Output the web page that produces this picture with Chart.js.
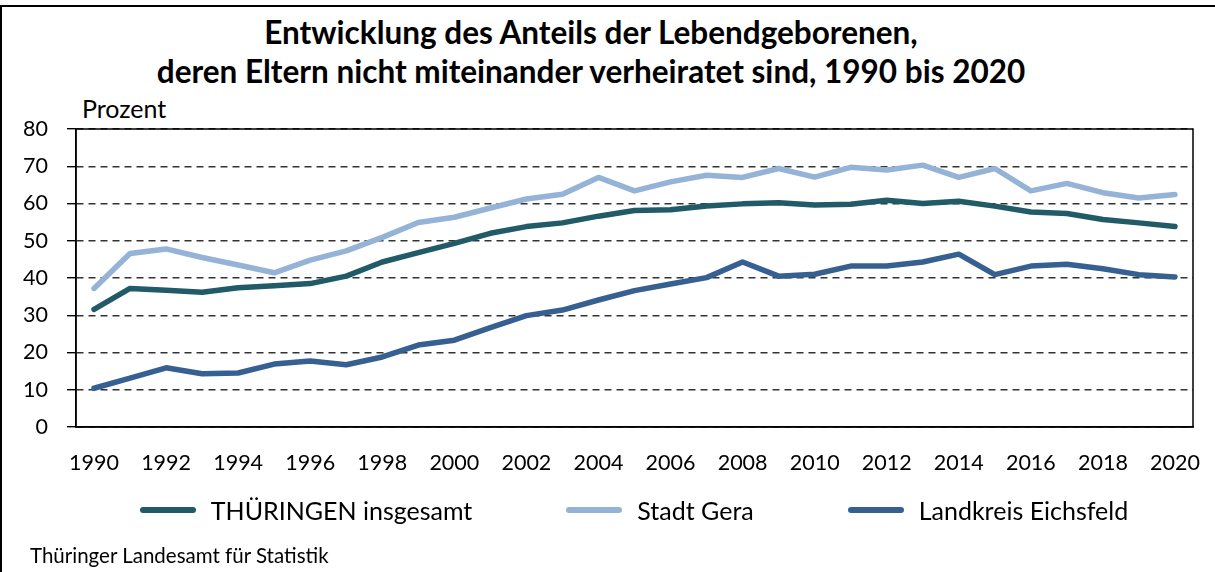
<!DOCTYPE html>
<html>
<head>
<meta charset="utf-8">
<script src="https://cdn.jsdelivr.net/npm/chart.js@4/dist/chart.umd.min.js"></script>
<style>
  html, body { margin: 0; padding: 0; background: #fff; }
  #wrap { position: relative; width: 1215px; height: 572px; overflow: hidden; font-family: Lato, "Noto Sans", sans-serif; color: #000; }
  #frame { position: absolute; left: 0; top: 5px; width: 1215px; height: 580px; border-top: 2px solid #000; border-left: 2px solid #000; box-sizing: border-box; }
  #title { position: absolute; left: 0; width: 1182px; top: 13px; text-align: center; font-weight: 700; font-size: 31.5px; line-height: 39px; }
  #unit { position: absolute; left: 82px; top: 94px; font-size: 25px; line-height: 28px; }
  #source { position: absolute; left: 30px; top: 543px; font-size: 20.5px; line-height: 24px; }
  #legend { position: absolute; left: 76px; width: 1116px; top: 494px; display: flex; justify-content: center; gap: 94px; font-size: 25px; line-height: 32px; }
  #legend .item { display: flex; align-items: center; }
  #legend .swatch { width: 56px; height: 6px; border-radius: 3px; margin-right: 15px; }
  canvas { position: absolute; left: 0; top: 0; }
</style>
</head>
<body>
<div id="wrap">
  <div id="frame"></div>
  <div id="title">Entwicklung des Anteils der Lebendgeborenen,<br>deren Eltern nicht miteinander verheiratet sind, 1990 bis 2020</div>
  <div id="unit">Prozent</div>
  <canvas id="c" width="1215" height="572"></canvas>
  <div id="legend"></div>
  <div id="source">Thüringer Landesamt für Statistik</div>
</div>
<script>
const years = ["1990","1991","1992","1993","1994","1995","1996","1997","1998","1999","2000","2001","2002","2003","2004","2005","2006","2007","2008","2009","2010","2011","2012","2013","2014","2015","2016","2017","2018","2019","2020"];
const thueringen = [31.6,37.2,36.7,36.2,37.4,37.9,38.5,40.5,44.3,46.8,49.3,52.0,53.8,54.8,56.6,58.1,58.3,59.3,59.9,60.2,59.6,59.8,60.9,60.0,60.6,59.3,57.7,57.3,55.7,54.8,53.8];
const gera = [37.2,46.6,47.8,45.5,43.5,41.4,44.8,47.3,50.9,54.9,56.3,58.8,61.2,62.5,67.0,63.4,65.8,67.6,67.0,69.4,67.1,69.7,69.0,70.3,67.0,69.4,63.4,65.4,62.9,61.5,62.4];
const eichsfeld = [10.4,13.1,15.9,14.3,14.5,16.9,17.7,16.7,18.8,22.0,23.3,26.7,29.9,31.4,34.1,36.6,38.4,40.1,44.3,40.5,41.0,43.2,43.2,44.3,46.4,40.9,43.2,43.7,42.5,40.9,40.3];
const seriesNames = ["THÜRINGEN insgesamt", "Stadt Gera", "Landkreis Eichsfeld"];
const seriesColors = ["#215B68", "#95B3D7", "#376092"];
const yTicks = [0,10,20,30,40,50,60,70,80];

const frame = {
  id: 'frame',
  afterDatasetsDraw(chart) {
    const {ctx, chartArea: a} = chart;
    ctx.save();
    ctx.strokeStyle = '#000';
    ctx.lineWidth = 1.5;
    ctx.strokeRect(a.left, a.top, a.right - a.left, a.bottom - a.top);
    ctx.restore();
  }
};

const htmlLegend = {
  id: 'htmlLegend',
  afterUpdate(chart) {
    const box = document.getElementById('legend');
    box.innerHTML = '';
    chart.options.plugins.legend.labels.generateLabels(chart).forEach(item => {
      const el = document.createElement('div');
      el.className = 'item';
      const sw = document.createElement('span');
      sw.className = 'swatch';
      sw.style.background = item.strokeStyle;
      const tx = document.createElement('span');
      tx.textContent = item.text;
      el.appendChild(sw); el.appendChild(tx);
      box.appendChild(el);
    });
  }
};

const mk = (i, data) => ({
  label: seriesNames[i], data, borderColor: seriesColors[i], backgroundColor: seriesColors[i],
  borderWidth: 5.5, pointRadius: 0, tension: 0, borderCapStyle: 'round', borderJoinStyle: 'round'
});

new Chart(document.getElementById('c'), {
  type: 'line',
  data: { labels: years, datasets: [mk(0, thueringen), mk(1, gera), mk(2, eichsfeld)] },
  options: {
    responsive: false, animation: false,
    layout: { padding: { top: 129, left: 0, right: 22, bottom: 0 } },
    plugins: { legend: { display: false }, tooltip: { enabled: false }, title: { display: false } },
    scales: {
      x: {
        type: 'category', offset: true,
        grid: { display: false, drawTicks: false },
        border: { display: true, color: '#000', width: 1.5 },
        ticks: { autoSkip: false, maxRotation: 0, padding: 23, color: '#000', font: { family: 'Lato', size: 21.5 },
          callback: (v, i) => (i % 2 === 0 ? years[i] : '') },
        afterFit: s => { s.height = 145; s.paddingLeft = 0; s.paddingRight = 0; }
      },
      y: {
        min: 0, max: 80,
        afterBuildTicks: s => { s.ticks = yTicks.map(v => ({ value: v })); },
        grid: { color: '#333', lineWidth: 1.4, drawTicks: true, tickLength: 9, tickColor: '#000', tickWidth: 1.4 },
        border: { display: true, color: '#000', width: 1.5, dash: [7, 5] },
        ticks: { padding: 19, color: '#000', font: { family: 'Lato', size: 21.5 } },
        afterFit: s => { s.width = 76; s.paddingTop = 0; s.paddingBottom = 0; }
      }
    }
  },
  plugins: [frame, htmlLegend]
});
</script>
</body>
</html>
